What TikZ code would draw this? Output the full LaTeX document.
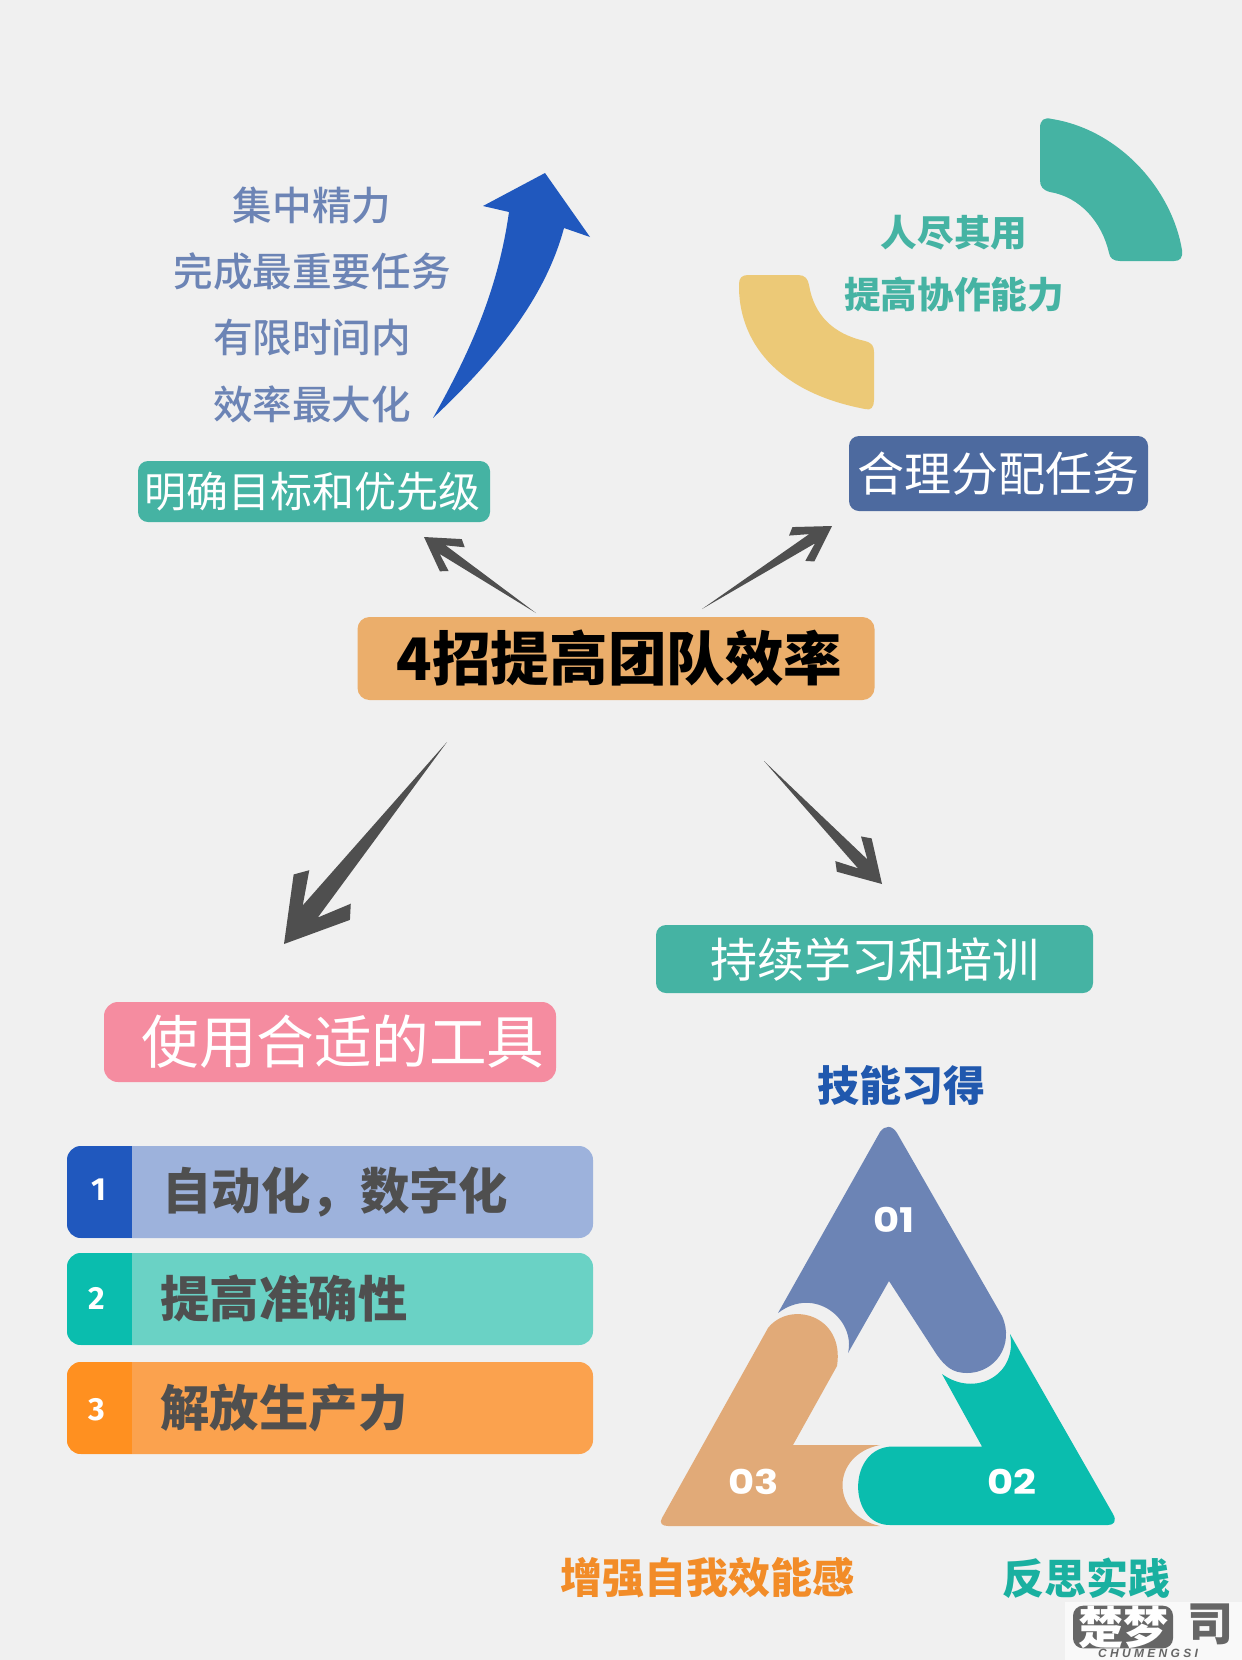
\documentclass[tikz,border=0pt]{standalone}
\usepackage{fontspec}
\setmainfont{Noto Sans CJK SC}
\newfontfamily\tagfont{Poppins}
\newfontfamily\digitfont{Fira Sans}
\newfontfamily\logofont{Liberation Sans}
\newfontfamily\softcjk{Noto Sans CJK SC Medium}
\usetikzlibrary{calc,positioning}
\definecolor{pagebg}{HTML}{F0F0F0}
\definecolor{inkgray}{HTML}{4F4F4F}
\definecolor{markgray}{HTML}{666666}
\definecolor{royal}{HTML}{2058BE}
\definecolor{skillblue}{HTML}{2058AE}
\definecolor{slate}{HTML}{6C84B5}
\definecolor{navy}{HTML}{4D6A9F}
\definecolor{sea}{HTML}{45B3A3}
\definecolor{jade}{HTML}{0ABDAE}
\definecolor{skillsea}{HTML}{1AB0A0}
\definecolor{sand}{HTML}{EBAE6B}
\definecolor{clay}{HTML}{E1AA78}
\definecolor{butter}{HTML}{ECC977}
\definecolor{rose}{HTML}{F58CA0}
\definecolor{flame}{HTML}{F28C28}
\definecolor{rowblue}{HTML}{9DB2DC}
\definecolor{rowjade}{HTML}{6AD2C5}
\definecolor{roworange}{HTML}{FBA24E}
\definecolor{barorange}{HTML}{FF9020}
\tikzset{
    box/.style={
        rectangle,
        rounded corners=5pt,
        inner sep=0pt,
        text=white,
    },
    barbox/.style 2 args={
        rectangle,
        rounded corners=7pt,
        fill=#1,
        minimum width=263pt,
        minimum height=46pt,
        inner sep=0pt,
        path picture={
            \fill[#2, sharp corners] (path picture bounding box.south west) rectangle
                ([xshift=32.5pt]path picture bounding box.north west);
        },
    },
    bartext/.style={
        font=\bfseries\fontsize{24.7}{24.7}\selectfont,
        text=inkgray,
        inner sep=0pt,
    },
    barnum/.style={
        font=\digitfont\bfseries\fontsize{16}{16}\selectfont,
        text=white,
        inner sep=0pt,
    },
    note/.style={
        font=\softcjk\fontsize{19.8}{19.8}\selectfont,
        text=slate,
        inner sep=0pt,
    },
    seanote/.style={
        font=\bfseries\fontsize{18.3}{18.3}\selectfont,
        text=sea,
        inner sep=0pt,
    },
    skill/.style={
        font=\bfseries\fontsize{21}{21}\selectfont,
        inner sep=0pt,
    },
    segtag/.style={
        font=\tagfont\bfseries\fontsize{17}{17}\selectfont,
        text=white,
        inner sep=0pt,
        xscale=1.18,
    },
    brush/.style={
        fill=inkgray,
    },
    node distance=33.2pt,
    x=0.5pt,
    y=-0.5pt,
}
\newcommand{\brusharrow}[3]{
    \fill[brush] (#1) -- ($(#2)!.55*#3!13:(#1)$) -- ($(#2)!#3!20:(#1)$)
        -- ($(#2)!.9*#3!31:(#1)$) -- (#2) -- ($(#2)!.9*#3!-31:(#1)$)
        -- ($(#2)!#3!-20:(#1)$) -- ($(#2)!.55*#3!-13:(#1)$) -- cycle;
}
\begin{document}
\begin{tikzpicture}
    \fill[pagebg] (0,0) rectangle (1242,1660);
    \useasboundingbox (0,0) rectangle (1242,1660);

    % main title and the four headings
    \node [box, fill=sand, rounded corners=6pt, minimum width=258.5pt, minimum height=41.5pt,
        text=black, font=\bfseries\fontsize{29.3}{29.3}\selectfont] (Title) at (616,658.5) {\hspace*{3.5pt}4招提高团队效率};
    \node [box, fill=sea, minimum width=176pt, minimum height=30.5pt,
        font=\fontsize{21}{21}\selectfont] (Goal) at (314,491.5) {\hspace*{-1.5pt}明确目标和优先级};
    \node [box, fill=navy, minimum width=149.5pt, minimum height=37.5pt,
        font=\fontsize{23.5}{23.5}\selectfont] (Assign) at (998.5,473.5) {合理分配任务};
    \node [box, fill=sea, minimum width=218.5pt, minimum height=34pt,
        font=\fontsize{23.5}{23.5}\selectfont] (Learn) at (874.5,959) {持续学习和培训};
    \node [box, fill=rose, rounded corners=7pt, minimum width=226pt, minimum height=40pt,
        font=\fontsize{28.8}{28.8}\selectfont] (Tools) at (330,1042) {\hspace*{13pt}使用合适的工具};

    % arrows out of the title
    \coordinate (GoalTail) at (536,613);
    \coordinate (GoalTip) at (424,537);
    \coordinate (AssignTail) at (702,609);
    \coordinate (AssignTip) at (832,526);
    \coordinate (ToolsTail) at (447,742);
    \coordinate (ToolsTip) at (284,944);
    \coordinate (LearnTail) at (764,761);
    \coordinate (LearnTip) at (882,884);
    \brusharrow{GoalTail}{GoalTip}{21pt}
    \brusharrow{AssignTail}{AssignTip}{22pt}
    \brusharrow{ToolsTail}{ToolsTip}{39pt}
    \brusharrow{LearnTail}{LearnTip}{26pt}

    % goal notes and the rising arrow
    \node [note] (N1) at (312,205) {集中精力};
    \node [note, below of=N1] (N2) {完成最重要任务};
    \node [note, below of=N2] (N3) {有限时间内};
    \node [note, below of=N3] (N4) {效率最大化};
    \fill[royal] (433,418) .. controls (470,352) and (498,290) .. (509,212)
        -- (483,206) -- (545,173) -- (590,237) -- (564,228)
        .. controls (546,295) and (500,355) .. (433,418) -- cycle;

    % team notes between the two arcs
    \node [seanote] (S1) at (954,233) {人尽其用};
    \node [seanote, below of=S1, node distance=31pt] (S2) {提高协作能力};
    \fill[sea] (1040,128) .. controls (1040,120) and (1044,117) .. (1052,119)
        .. controls (1120,130) and (1172,190) .. (1182,250)
        .. controls (1183,258) and (1180,261) .. (1174,261) -- (1120,261)
        .. controls (1113,261) and (1110,258) .. (1109,253)
        .. controls (1102,222) and (1080,197) .. (1050,192)
        .. controls (1043,190) and (1040,187) .. (1040,180) -- cycle;
    \fill[butter] (739,284) .. controls (739,278) and (742,275) .. (748,275) -- (798,275)
        .. controls (805,275) and (808,279) .. (809,285)
        .. controls (814,315) and (833,334) .. (865,341)
        .. controls (872,343) and (874,346) .. (874,352) -- (874,400)
        .. controls (874,407) and (871,411) .. (865,409)
        .. controls (775,392) and (738,340) .. (739,284) -- cycle;

    % tool list
    \node [barbox={rowblue}{royal}] (Bar1) at (330,1192) {};
    \node [barbox={rowjade}{jade}] (Bar2) at (330,1299) {};
    \node [barbox={roworange}{barorange}] (Bar3) at (330,1408) {};
    \node [barnum] (Num1) at (99,1190) {1};
    \node [barnum] (Num2) at (97,1298) {2};
    \node [barnum] (Num3) at (97,1410) {3};
    \node [bartext, anchor=west] (Row1) at (162,1192) {自动化，数字化};
    \node [bartext, anchor=west] (Row2) at (160,1299) {提高准确性};
    \node [bartext, anchor=west] (Row3) at (160,1408) {解放生产力};

    % learning triangle
    \fill[slate] (778,1313) -- (880,1132) .. controls (885,1125) and (892,1125) .. (897,1133)
        -- (1002,1316) .. controls (1015,1345) and (995,1373) .. (967,1373)
        .. controls (952,1373) and (945,1366) .. (937,1355) -- (889,1281) -- (848,1353)
        .. controls (856,1320) and (815,1285) .. (778,1313) -- cycle;
    \fill[jade] (1010,1334) -- (1113,1514) .. controls (1117,1521) and (1114,1525) .. (1108,1525)
        -- (890,1525) .. controls (847,1525) and (847,1446.5) .. (893,1446.5)
        -- (982,1446.5) -- (942,1374) .. controls (975,1398) and (1018,1375) .. (1010,1334) -- cycle;
    \fill[clay] (662,1518) -- (768,1328) .. controls (790,1300) and (845,1315) .. (837,1366)
        -- (793,1445) -- (880,1445) .. controls (830,1455) and (830,1515) .. (880,1526)
        -- (668,1526) .. controls (662,1526) and (659,1523) .. (662,1518) -- cycle;
    \node [segtag] (Tag1) at (894,1220) {01};
    \node [segtag] (Tag2) at (1012,1482) {02};
    \node [segtag] (Tag3) at (754,1482) {03};
    \node [skill, text=skillblue] (Skill1) at (901,1085) {技能习得};
    \node [skill, text=flame] (Skill2) at (707,1578) {增强自我效能感};
    \node [skill, text=skillsea] (Skill3) at (1086,1578) {反思实践};

    % site mark
    \fill[white!60!pagebg] (1065,1602) rectangle (1242,1660);
    \node [box, fill=markgray, minimum width=50pt, minimum height=20.5pt,
        font=\bfseries\fontsize{22.5}{22.5}\selectfont] (Mark) at (1123,1627) {楚梦};
    \node [inner sep=0pt, text=markgray, font=\bfseries\fontsize{23}{23}\selectfont] (MarkSi) at (1210,1624) {司};
    \node [inner sep=0pt, text=markgray, font=\logofont\bfseries\itshape\fontsize{6}{6}\selectfont] (MarkEn) at (1148,1653) {C\;H\;U\;M\;E\;N\;G\;S\;I};
\end{tikzpicture}
\end{document}
